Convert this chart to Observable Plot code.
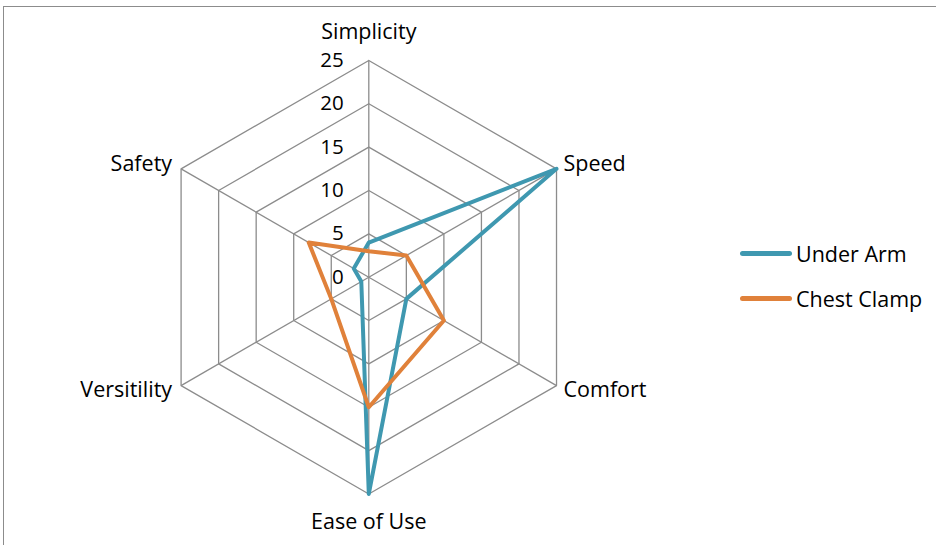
<!DOCTYPE html>
<html>
<head>
<meta charset="utf-8">
<script src="https://cdn.jsdelivr.net/npm/d3@7"></script>
<script src="https://cdn.jsdelivr.net/npm/@observablehq/plot@0.6"></script>
<style>
  html, body { margin: 0; padding: 0; background: #fff; }
  #wrap { position: relative; width: 936px; height: 545px; overflow: hidden; font-family: "Open Sans", Lato, sans-serif; }
  #border { position: absolute; left: 3px; top: 6px; width: 1000px; height: 1000px; border: 1.5px solid #8c8c8c; box-sizing: border-box; }
  #chart { position: absolute; left: 0; top: 0; }
  #legend { position: absolute; left: 740px; top: 231px; font-size: 21.5px; color: #000; }
  .item { display: flex; align-items: center; height: 45px; }
  .sw { width: 52px; height: 5px; border-radius: 3px; margin-right: 4px; }
</style>
</head>
<body>
<div id="wrap">
  <div id="border"></div>
  <div id="chart"></div>
  <div id="legend"></div>
</div>
<script>
const axes = ["Simplicity", "Speed", "Comfort", "Ease of Use", "Versitility", "Safety"];
const underArm = [4, 25, 5, 25, 1, 2];
const chestClamp = [3, 5, 10, 15, 5, 8];
const ticks = [0, 5, 10, 15, 20, 25];
const seriesNames = ["Under Arm", "Chest Clamp"];
const seriesValues = [underArm, chestClamp];
const colors = ["#3f98b0", "#e0813a"];

const W = 936, H = 545;
const cx = 368.3, cy = 276.7, unit = 8.67;
const maxR = 25;

const ang = i => (90 - 60 * i) * Math.PI / 180;
const pt = (i, r) => [r * Math.cos(ang(i)), r * Math.sin(ang(i))];

// grid rings
const rings = [];
ticks.filter(t => t > 0).forEach(t => {
  for (let k = 0; k <= axes.length; k++) {
    const [x, y] = pt(k % axes.length, t);
    rings.push({ring: t, x, y});
  }
});
// spokes
const spokes = axes.map((a, i) => { const [x, y] = pt(i, maxR); return {x1: 0, y1: 0, x2: x, y2: y}; });
// series polygons (closed)
const lines = [];
seriesNames.forEach((s, si) => {
  for (let k = 0; k <= axes.length; k++) {
    const i = k % axes.length;
    const [x, y] = pt(i, seriesValues[si][i]);
    lines.push({series: s, x, y});
  }
});
// axis labels
const labels = axes.map((a, i) => {
  const [x, y] = pt(i, maxR);
  const c = Math.cos(ang(i)), s = Math.sin(ang(i));
  let anchor = "middle", dx = 0, dy = 0;
  if (c > 0.1) { anchor = "start"; dx = 7; dy = s > 0 ? -5 : 5; }
  else if (c < -0.1) { anchor = "end"; dx = -9; dy = s > 0 ? -5 : 5; }
  else { dy = s > 0 ? -28 : 28; }
  return {name: a, x, y, anchor, dx, dy};
});
const tickLabels = ticks.map(t => ({t, x: 0, y: t}));

const plot = Plot.plot({
  width: W, height: H,
  margin: 0,
  x: {type: "linear", domain: [-cx / unit, (W - cx) / unit], axis: null},
  y: {type: "linear", domain: [-(H - cy) / unit, cy / unit], axis: null},
  style: {fontFamily: "'Open Sans', Lato, sans-serif", fontSize: "22px", background: "transparent", color: "#000"},
  marks: [
    Plot.line(rings, {x: "x", y: "y", z: "ring", stroke: "#8c8c8c", strokeWidth: 1.3}),
    Plot.link(spokes, {x1: "x1", y1: "y1", x2: "x2", y2: "y2", stroke: "#8c8c8c", strokeWidth: 1.3}),
    ...seriesNames.map((s, si) =>
      Plot.line(lines.filter(d => d.series === s), {x: "x", y: "y", stroke: colors[si], strokeWidth: 4})
    ),
    Plot.text(tickLabels, {x: "x", y: "y", text: d => String(d.t), textAnchor: "end", dx: -25, fill: "#000", fontSize: 20.5}),
    ...labels.map(l =>
      Plot.text([l], {x: "x", y: "y", text: "name", textAnchor: l.anchor, dx: l.dx, dy: l.dy, fill: "#000", fontSize: 21.5})
    )
  ]
});
document.getElementById("chart").appendChild(plot);

// legend
const legend = document.getElementById("legend");
seriesNames.forEach((s, i) => {
  const item = document.createElement("div");
  item.className = "item";
  const sw = document.createElement("div");
  sw.className = "sw";
  sw.style.background = colors[i];
  const tx = document.createElement("span");
  tx.textContent = s;
  item.appendChild(sw); item.appendChild(tx);
  legend.appendChild(item);
});
</script>
</body>
</html>
